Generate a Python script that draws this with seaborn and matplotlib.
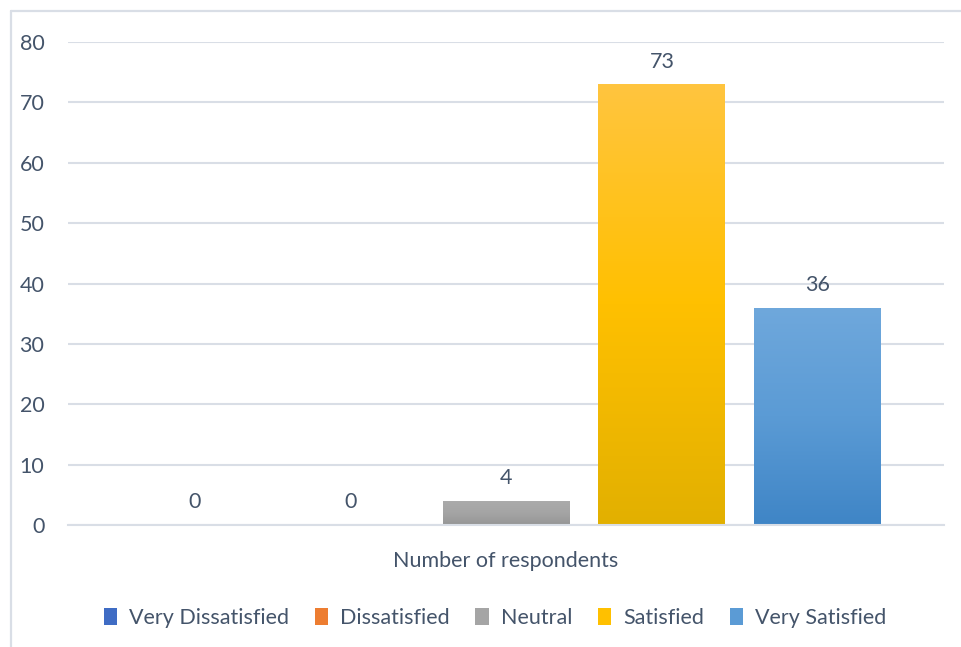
import numpy as np
import pandas as pd
import matplotlib
matplotlib.use("Agg")
import matplotlib.pyplot as plt
import matplotlib.colors as mcolors
from matplotlib.lines import Line2D
import seaborn as sns

# Survey responses
category = "Number of respondents"
levels = ["Very Dissatisfied", "Dissatisfied", "Neutral", "Satisfied", "Very Satisfied"]
counts = [0, 0, 4, 73, 36]
y_ticks = [0, 10, 20, 30, 40, 50, 60, 70, 80]

# Fill colours: base, lighter top, darker bottom
base_colors = ["#3F6CC4", "#ED7D31", "#A5A5A5", "#FFC000", "#5B9BD5"]
top_colors = ["#4A7BD0", "#F58B3E", "#ABABAB", "#FFC53F", "#6FA8DC"]
bottom_colors = ["#2E5AAE", "#DC6A1E", "#969696", "#E2B000", "#3F85C6"]

text_color = "#44546A"
grid_color = "#D9DEE6"

df = pd.DataFrame({"group": [category] * len(levels), "level": levels, "count": counts})

sns.set_theme(style="white")
plt.rcParams["font.family"] = ["Lato", "DejaVu Sans"]

fig = plt.figure(figsize=(9.61, 6.47), dpi=100)
W, H = 961, 647
ax = fig.add_axes([68 / W, 1 - 525 / H, (944 - 68) / W, (525 - 42) / H])

sns.barplot(data=df, x="group", y="count", hue="level", hue_order=levels,
            palette=base_colors, width=0.89, gap=0.186, ax=ax, saturation=1)

ax.set_ylim(0, 80)
ax.set_xlim(-0.5, 0.5)
ax.set_yticks(y_ticks)
ax.set_yticklabels([str(t) for t in y_ticks])
ax.yaxis.grid(True, color=grid_color, linewidth=1.5)
ax.set_axisbelow(True)
for s in ax.spines.values():
    s.set_visible(False)
ax.spines["bottom"].set_visible(True)
ax.spines["bottom"].set_color(grid_color)
ax.spines["bottom"].set_linewidth(1.5)
ax.tick_params(axis="y", length=0, pad=17, labelsize=15.5, labelcolor=text_color)
ax.tick_params(axis="x", length=0, pad=19, labelsize=15.5, labelcolor=text_color)
ax.set_xlabel("")
ax.set_ylabel("")

# Vertical gradient inside each bar, clipped to the bar shape
for i, container in enumerate(ax.containers):
    for patch in container.patches:
        x0, y0 = patch.get_x(), patch.get_y()
        w, h = patch.get_width(), patch.get_height()
        if h <= 0:
            continue
        cmap = mcolors.LinearSegmentedColormap.from_list(
            f"g{i}", [bottom_colors[i], base_colors[i], top_colors[i]])
        grad = np.linspace(0, 1, 256).reshape(-1, 1)
        im = ax.imshow(grad, cmap=cmap, origin="lower", aspect="auto",
                       extent=[x0, x0 + w, y0, y0 + h], zorder=patch.get_zorder())
        im.set_clip_path(patch)
        patch.set_facecolor("none")
        patch.set_edgecolor("none")
    ax.bar_label(container, labels=[str(c) for c in [counts[i]]],
                 padding=9, fontsize=15.5, color=text_color)
ax.set_xlim(-0.5, 0.5)
ax.set_ylim(0, 80)

# Legend below the axis label
handles = [plt.Rectangle((0, 0), 1, 1, facecolor=c, edgecolor="none") for c in base_colors]
old = ax.get_legend()
if old is not None:
    old.remove()
fig.legend(handles, levels, loc="center", bbox_to_anchor=(495 / W, 1 - 618 / H),
           ncol=5, frameon=False, fontsize=15.5, labelcolor=text_color,
           handlelength=0.62, handleheight=0.85, handletextpad=0.55, columnspacing=1.2)

# Outer chart frame
fig.add_artist(Line2D([10.5 / W, 10.5 / W], [0, 1 - 10.5 / H], transform=fig.transFigure,
                      color=grid_color, linewidth=1.6))
fig.add_artist(Line2D([10.5 / W, 1], [1 - 10.5 / H, 1 - 10.5 / H], transform=fig.transFigure,
                      color=grid_color, linewidth=1.6))

fig.savefig("out.png", dpi=100, facecolor="white")
